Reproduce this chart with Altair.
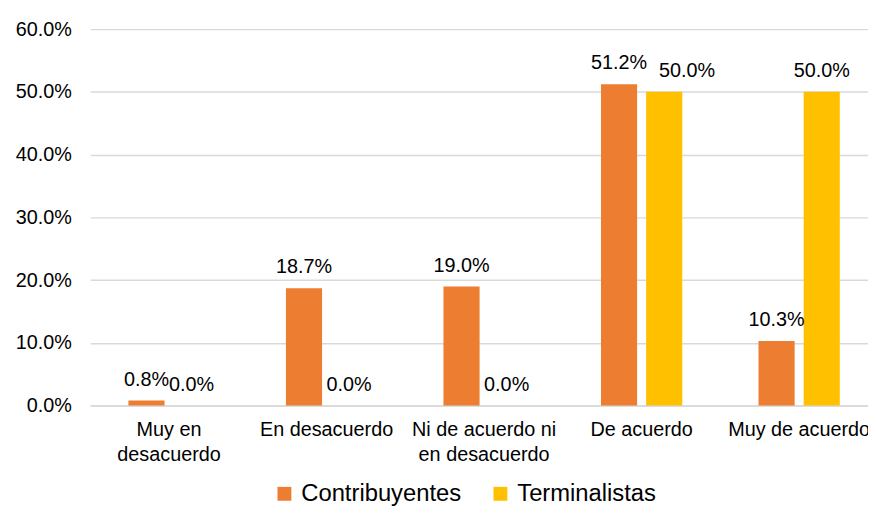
import altair as alt
import pandas as pd

categories = ["Muy en desacuerdo", "En desacuerdo", "Ni de acuerdo ni en desacuerdo", "De acuerdo", "Muy de acuerdo"]
series = ["Contribuyentes", "Terminalistas"]
contribuyentes = [0.008, 0.187, 0.190, 0.512, 0.103]
terminalistas = [0.0, 0.0, 0.0, 0.50, 0.50]
colors = ["#ED7D31", "#FFC000"]

rows = []
for i, c in enumerate(categories):
    rows.append({"cat": c, "serie": series[0], "val": contribuyentes[i]})
    rows.append({"cat": c, "serie": series[1], "val": terminalistas[i]})
df = pd.DataFrame(rows)

font = "Liberation Sans"

label_expr = ("datum.label == 'Muy en desacuerdo' ? ['Muy en', 'desacuerdo'] : "
              "datum.label == 'Ni de acuerdo ni en desacuerdo' ? ['Ni de acuerdo ni', 'en desacuerdo'] : datum.label")

x = alt.X("cat:N", sort=categories, title=None,
          scale=alt.Scale(paddingInner=0.484, paddingOuter=0.2107, align=0.575),
          axis=alt.Axis(labelAngle=0, labelExpr=label_expr, ticks=False, domain=True,
                        domainColor="#d9d9d9", domainWidth=1.5, labelFontSize=20, labelFont=font,
                        labelColor="#000000", labelPadding=14, labelLineHeight=25, labelLimit=300))
y = alt.Y("val:Q", title=None,
          scale=alt.Scale(domain=[0, 0.6]),
          axis=alt.Axis(format=".1%", values=[0, 0.1, 0.2, 0.3, 0.4, 0.5, 0.6], ticks=False,
                        domain=False, gridColor="#d9d9d9", gridWidth=1.5,
                        labelFontSize=20, labelFont=font, labelColor="#000000", labelPadding=19))
xo = alt.XOffset("serie:N", sort=series, scale=alt.Scale(paddingInner=0.2))
color = alt.Color("serie:N", sort=series, scale=alt.Scale(domain=series, range=colors),
                  legend=alt.Legend(title=None, orient="none", legendX=184, legendY=457,
                                    direction="horizontal", labelLimit=400,
                                    symbolType="square", symbolSize=196, symbolStrokeWidth=0,
                                    labelFontSize=24, labelFont=font, labelColor="#000000",
                                    columnPadding=27, labelOffset=5))

is_shifted = "datum.cat == 'De acuerdo' && datum.serie == 'Terminalistas'"

bars = alt.Chart(df).mark_bar().encode(x=x, y=y, xOffset=xo, color=color)
texts = alt.Chart(df).transform_filter("!(" + is_shifted + ")").mark_text(
    baseline="middle", dy=-21, fontSize=20, font=font, color="#000000").encode(
    x=x, y=y, xOffset=xo, text=alt.Text("val:Q", format=".1%"))
texts_shift = alt.Chart(df).transform_filter(is_shifted).mark_text(
    baseline="middle", dy=-21, dx=23, fontSize=20, font=font, color="#000000").encode(
    x=x, y=y, xOffset=xo, text=alt.Text("val:Q", format=".1%"))

chart = (bars + texts + texts_shift).properties(
    width=785, height=380,
    autosize=alt.AutoSizeParams(type="none"),
    padding={"top": 19, "left": 83, "right": 0, "bottom": 100},
).configure(background="#ffffff").configure_view(strokeWidth=0)

chart.save("out.html", embed_options={"renderer": "svg", "actions": False})
